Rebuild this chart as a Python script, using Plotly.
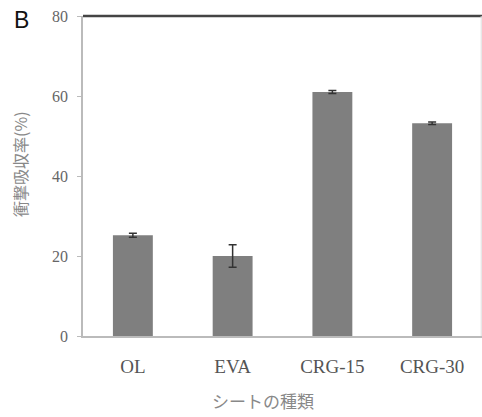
import plotly.graph_objects as go

categories = ["OL", "EVA", "CRG-15", "CRG-30"]
values = [25.2, 20.0, 61.0, 53.2]
errors = [0.5, 2.8, 0.4, 0.3]
y_ticks = [0, 20, 40, 60, 80]

serif = "Liberation Serif, Times New Roman, serif"

fig = go.Figure()
fig.add_trace(go.Bar(
    x=categories, y=values, width=0.4,
    marker=dict(color="#7f7f7f", line=dict(width=0)),
    error_y=dict(type="data", array=errors, visible=True, color="#333333", thickness=1.5, width=4),
))

fig.update_layout(
    width=482, height=417,
    margin=dict(l=83, r=0, t=16, b=81),
    paper_bgcolor="white", plot_bgcolor="white",
    showlegend=False,
    xaxis=dict(range=[-0.5, 3.5], showgrid=False, zeroline=False,
               showline=True, linecolor="#bbbbbb", linewidth=1.5,
               ticks="", tickfont=dict(family=serif, size=19, color="#555555"),
               ticklabelstandoff=12),
    yaxis=dict(range=[0, 80], tickvals=y_ticks, showgrid=False, zeroline=False,
               showline=True, linecolor="#bbbbbb", linewidth=1.5,
               ticks="outside", ticklen=4, tickcolor="#bbbbbb",
               tickfont=dict(family=serif, size=16, color="#666666"),
               ticklabelstandoff=6),
    shapes=[
        dict(type="line", xref="paper", yref="paper", x0=0, x1=1, y0=1, y1=1,
             line=dict(color="#444444", width=2.5), layer="above"),
        dict(type="line", xref="paper", yref="paper", x0=0.998, x1=0.998, y0=0, y1=1,
             line=dict(color="#dddddd", width=1)),
    ],
    annotations=[
        dict(text="B", xref="paper", yref="paper", x=-0.178, y=1.035, xanchor="left", yanchor="top",
             showarrow=False, font=dict(family="Liberation Sans, Arial", size=23, color="#111111")),
        dict(text="衝撃吸収率(%)", xref="paper", yref="y", x=-0.158, y=43, textangle=-90,
             xanchor="center", yanchor="middle", showarrow=False,
             font=dict(family="Noto Sans CJK JP", size=16, color="#888888")),
        dict(text="シートの種類", xref="paper", yref="paper", x=0.45, y=-0.2,
             xanchor="center", yanchor="middle", showarrow=False,
             font=dict(family="Noto Sans CJK JP", size=17, color="#888888")),
    ],
)

fig.write_html("out.html", config={"displayModeBar": False},
               post_script="document.body.style.margin='0';")
